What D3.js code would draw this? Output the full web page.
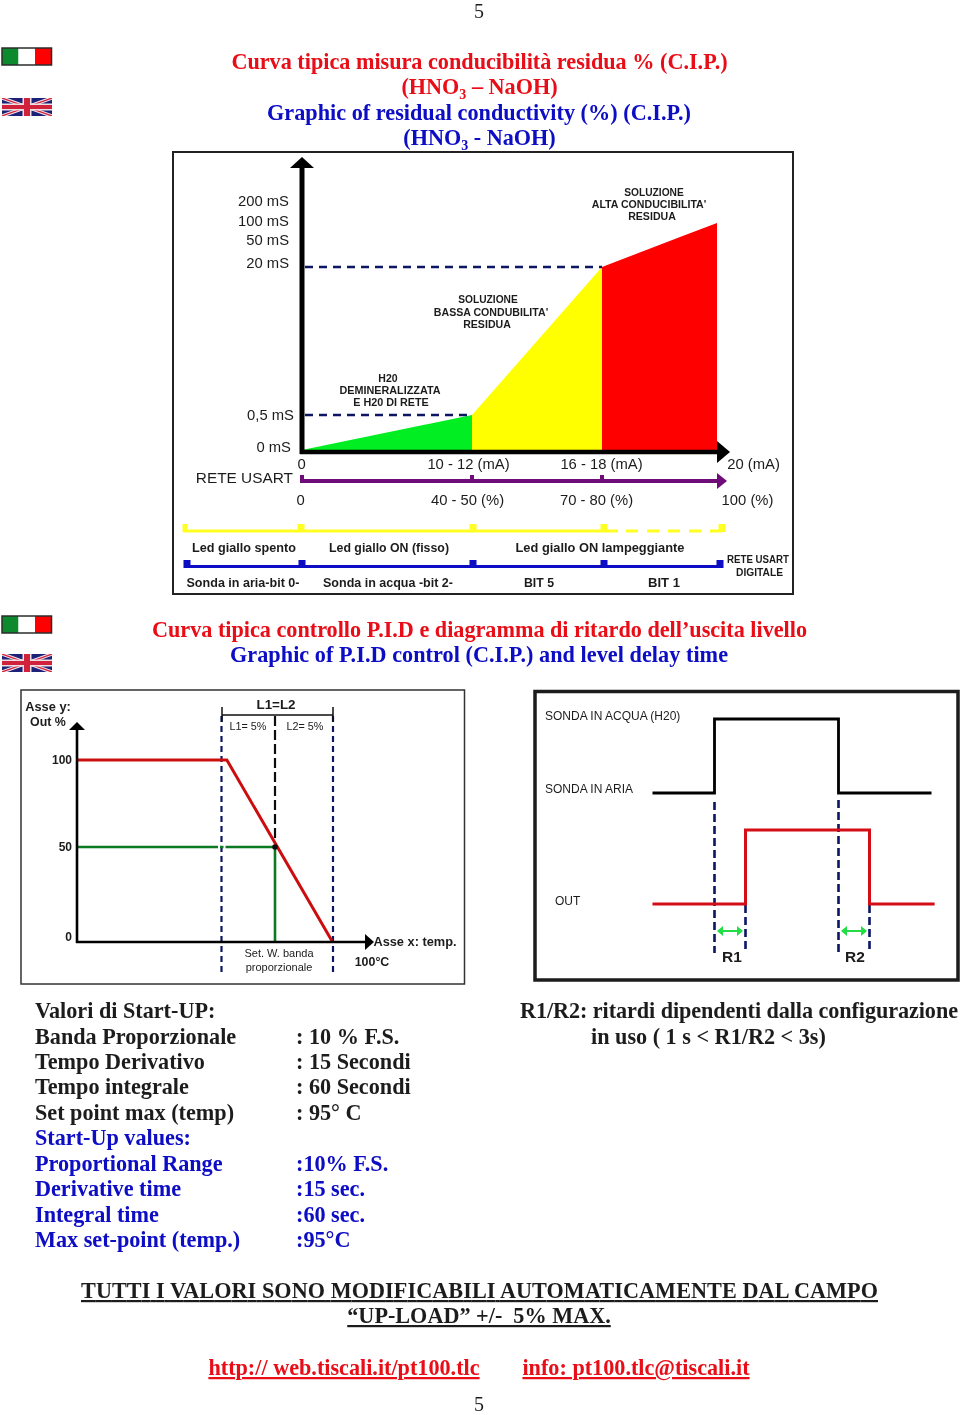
<!DOCTYPE html>
<html>
<head>
<meta charset="utf-8">
<script src="https://cdn.jsdelivr.net/npm/d3@7"></script>
<style>
body { margin: 0; background: #fff; }
svg { display: block; }
.page { font-family: "Liberation Serif", serif; font-weight: bold; }
.art { font-family: "Liberation Sans", sans-serif; fill: #1c1c1c; }
.axis path, .axis line { display: none; }
</style>
</head>
<body>
<div id="viz_container"></div>
<script>
// chart 1: conductivity against current
const conductivityTicks = [0, 0.5, 20, 50, 100, 200];
const conductivityLabels = ["0 mS", "0,5 mS", "20 mS", "50 mS", "100 mS", "200 mS"];
const currentTicks = [0, 11, 17, 20];
const currentLabels = ["0", "10 - 12 (mA)", "16 - 18 (mA)", "20 (mA)"];
const percentLabels = ["0", "40 - 50 (%)", "70 - 80 (%)", "100 (%)"];
const greenCurrent = [0, 11];
const greenConductivity = [0, 0.5];
const yellowCurrent = [11, 17];
const yellowConductivity = [0.5, 20];
const redCurrent = [17, 20];
const redConductivity = [20, 95];
const ledLabels = ["Led giallo spento", "Led giallo ON (fisso)", "Led giallo ON lampeggiante"];
const bitLabels = ["Sonda in aria-bit 0-", "Sonda in acqua -bit 2-", "BIT 5", "BIT 1"];

// chart 2: P.I.D. output against temperature
const outTicks = [0, 50, 100];
const redTemp = [0, 90.5, 100];
const redOut = [100, 100, 0];
const greenTemp = [0, 95, 95];
const greenOut = [50, 50, 0];
const bandTemps = [90, 95, 100];

// chart 3: delay of the level output, seconds
const probeTime = [0, 2, 2, 6, 6, 9];
const probeLevel = [0, 0, 1, 1, 0, 0];
const outputTime = [0, 3, 3, 7, 7, 9.1];
const outputLevel = [0, 0, 1, 1, 0, 0];

const startUpIt = ["Banda Proporzionale", "Tempo Derivativo", "Tempo integrale", "Set point max (temp)"];
const startUpItValues = [": 10 % F.S.", ": 15 Secondi", ": 60 Secondi", ": 95° C"];
const startUpEn = ["Proportional Range", "Derivative time", "Integral time", "Max set-point (temp.)"];
const startUpEnValues = [":10% F.S.", ":15 sec.", ":60 sec.", ":95°C"];

const RED = "#e80a14", BLUE = "#0808c4", INK = "#1c1c1c", NAVY = "#0a1464";

var svg = d3.select("#viz_container").append("svg")
    .attr("width", 960)
    .attr("height", 1415)
    .attr("viewBox", "0 0 960 1415");

var defs = svg.append("defs");
defs.append("filter").attr("id", "text").append("feGaussianBlur").attr("stdDeviation", 0.25);
defs.append("filter").attr("id", "soft").append("feGaussianBlur").attr("stdDeviation", 0.4);
defs.append("filter").attr("id", "softer").append("feGaussianBlur").attr("stdDeviation", 0.7);
defs.append("clipPath").attr("id", "ukclip").append("rect").attr("width", 50).attr("height", 18);

var pageText = svg.append("g").attr("filter", "url(#text)");

// body text of the page
function line(txt, x, y, color, anchor, size) {
    return pageText.append("text").attr("class", "page")
        .attr("x", x).attr("y", y)
        .attr("fill", color)
        .attr("text-anchor", anchor || "middle")
        .style("font-size", (size || 22.2) + "px")
        .text(txt);
}

// same, with the subscript 3 of HNO3
function hno(y, tail) {
    var t = line("(HNO", 479.5, y, y < 100 ? RED : BLUE);
    t.append("tspan").attr("dy", 5).style("font-size", "14px").text("3");
    t.append("tspan").attr("dy", -5).text(tail);
}

function art(g, txt, x, y, size, bold, anchor) {
    return g.append("text").attr("class", "art")
        .attr("x", x).attr("y", y)
        .attr("text-anchor", anchor || "middle")
        .style("font-size", size + "px")
        .style("font-weight", bold ? "bold" : "normal")
        .text(txt);
}

// the tall condensed captions of the two bars
function caption(g, txt, x, y, width, size) {
    return art(g, txt, x, y, size || 13, true)
        .attr("textLength", width)
        .attr("lengthAdjust", "spacingAndGlyphs");
}

function flagIt(y) {
    var g = svg.append("g").attr("transform", "translate(2," + y + ")").attr("filter", "url(#soft)");
    g.selectAll("rect").data(["#0a8a2e", "#ffffff", "#ff0000"]).enter().append("rect")
        .attr("x", (d, i) => i * 16.5)
        .attr("width", 16.5)
        .attr("height", 17)
        .attr("fill", d => d);
    g.append("rect").attr("width", 49.5).attr("height", 17)
        .attr("fill", "none").attr("stroke", "#2b2b2b").attr("stroke-width", 1.5);
}

function flagUk(y) {
    var g = svg.append("g").attr("transform", "translate(2," + y + ")").attr("filter", "url(#softer)")
        .append("g").attr("clip-path", "url(#ukclip)");
    g.append("rect").attr("width", 50).attr("height", 18).attr("fill", "#1c2278");
    [[0, 0, 50, 18], [0, 18, 50, 0]].forEach(function(c) {
        g.append("line").attr("x1", c[0]).attr("y1", c[1]).attr("x2", c[2]).attr("y2", c[3])
            .attr("stroke", "#f0e4e8").attr("stroke-width", 3.5);
        g.append("line").attr("x1", c[0]).attr("y1", c[1]).attr("x2", c[2]).attr("y2", c[3])
            .attr("stroke", "#d8203a").attr("stroke-width", 1.2);
    });
    g.append("rect").attr("x", 20.5).attr("width", 9).attr("height", 18).attr("fill", "#f0dfe2");
    g.append("rect").attr("y", 5.5).attr("width", 50).attr("height", 7).attr("fill", "#f0dfe2");
    g.append("rect").attr("x", 22).attr("width", 6).attr("height", 18).attr("fill", "#d0203a");
    g.append("rect").attr("y", 7).attr("width", 50).attr("height", 4).attr("fill", "#d0203a");
}

function arrowHead(g, pts, color) {
    g.append("path").attr("d", d3.line()(pts) + "Z").attr("fill", color);
}

// ---- headers ----
line("5", 479, 18, INK, "middle", 20).style("font-weight", "normal");
flagIt(48); flagUk(98);
line("Curva tipica misura conducibilità residua % (C.I.P.)", 479.5, 69, RED);
hno(94, " – NaOH)");
line("Graphic of residual conductivity (%) (C.I.P.)", 479, 120, BLUE).attr("textLength", 424);
hno(145, " - NaOH)");

// ---- chart 1 ----
var c1 = svg.append("g").attr("filter", "url(#soft)");
c1.append("rect").attr("x", 173).attr("y", 152).attr("width", 620).attr("height", 442)
    .attr("fill", "#fff").attr("stroke", "#222").attr("stroke-width", 2);

var x1 = d3.scaleLinear().domain([0, 11, 17, 20]).range([302, 472, 602, 717]);
var y1 = d3.scaleLinear().domain(conductivityTicks).range([450, 415, 267, 240, 221, 201]);

var band = d3.area().x(d => x1(d.c)).y0(450).y1(d => y1(d.v));
[[greenCurrent, greenConductivity, "#00ee22"],
 [yellowCurrent, yellowConductivity, "#ffff00"],
 [redCurrent, redConductivity, "#ff0000"]].forEach(function(s) {
    c1.append("path")
        .attr("d", band(s[0].map((c, i) => ({c: c, v: s[1][i]}))))
        .attr("fill", s[2]);
});

[[20, 17], [0.5, 11]].forEach(function(p) {
    c1.append("line").attr("x1", 305).attr("x2", x1(p[1]))
        .attr("y1", y1(p[0])).attr("y2", y1(p[0]))
        .attr("stroke", NAVY).attr("stroke-width", 2.4).attr("stroke-dasharray", "8 6");
});

// axes
c1.append("line").attr("x1", 302).attr("x2", 302).attr("y1", 454).attr("y2", 166)
    .attr("stroke", "#000").attr("stroke-width", 5);
arrowHead(c1, [[290, 168], [302, 157], [314, 168]], "#000");
c1.append("line").attr("x1", 300).attr("x2", 719).attr("y1", 452).attr("y2", 452)
    .attr("stroke", "#000").attr("stroke-width", 4.5);
arrowHead(c1, [[717, 441], [730, 452], [717, 463]], "#000");

var yAxis1 = d3.axisLeft(y1).tickValues(conductivityTicks).tickSize(0)
    .tickFormat((d, i) => conductivityLabels[i]);
var yG1 = c1.append("g").attr("class", "axis").attr("transform", "translate(296,0)").call(yAxis1);
yG1.selectAll("text").attr("class", "art").style("font-size", "14.8px")
    .attr("dx", d => d == 0.5 ? 1 : (d == 0 ? -2 : -4))
    .attr("dy", d => d == 0 ? "0.1em" : (d == 20 ? "0" : (d == 0.5 ? "0.3em" : "0.32em")));

// mA labels
var mA = c1.append("g").attr("class", "axis").attr("transform", "translate(0,469)")
    .call(d3.axisBottom(x1).tickValues(currentTicks).tickSize(0).tickPadding(0)
        .tickFormat((d, i) => currentLabels[i]));
mA.selectAll("text").attr("class", "art").style("font-size", "14.8px")
    .attr("y", 0).attr("dy", 0)
    .attr("dx", d => ({0: -1, 11: -4, 17: -1, 20: 36})[d]);

// purple scale
c1.append("line").attr("x1", 300).attr("x2", 718).attr("y1", 481).attr("y2", 481)
    .attr("stroke", "#6e0a78").attr("stroke-width", 4);
arrowHead(c1, [[717, 473], [727, 481], [717, 489]], "#6e0a78");
[0, 11, 17].forEach(function(c) {
    c1.append("rect").attr("x", x1(c) - 2).attr("y", 475).attr("width", 4).attr("height", 6).attr("fill", "#6e0a78");
});
art(c1, "RETE USART", 293, 483, 15.4, false, "end");

var pct = c1.append("g").attr("class", "axis").attr("transform", "translate(0,505)")
    .call(d3.axisBottom(x1).tickValues(currentTicks).tickSize(0).tickPadding(0)
        .tickFormat((d, i) => percentLabels[i]));
pct.selectAll("text").attr("class", "art").style("font-size", "14.8px")
    .attr("y", 0).attr("dy", 0)
    .attr("dx", d => ({0: -2, 11: -5, 17: -6, 20: 30})[d]);

// annotations in the plot
[["H20", 388, 382, 10.5], ["DEMINERALIZZATA", 390, 394, 10.8], ["E H20 DI RETE", 391, 406, 10.8],
 ["SOLUZIONE", 488, 303, 10.2], ["BASSA CONDUBILITA'", 491, 316, 10.6], ["RESIDUA", 487, 328, 10.6],
 ["SOLUZIONE", 654, 196, 10.2], ["ALTA CONDUCIBILITA'", 649, 208, 10.6], ["RESIDUA", 652, 220, 10.6]
].forEach(d => art(c1, d[0], d[1], d[2], d[3], true));

// led bar
c1.append("line").attr("x1", 183).attr("x2", 618).attr("y1", 531).attr("y2", 531)
    .attr("stroke", "#ffff22").attr("stroke-width", 3.2);
c1.append("line").attr("x1", 626).attr("x2", 722).attr("y1", 531).attr("y2", 531)
    .attr("stroke", "#ffff22").attr("stroke-width", 3.2).attr("stroke-dasharray", "12 9");
[[185, 5], [301, 7], [473, 7], [604, 7], [722, 7]].forEach(function(d) {
    c1.append("rect").attr("x", d[0] - d[1] / 2).attr("y", 524).attr("width", d[1]).attr("height", 8).attr("fill", "#ffff22");
});
[[244, 104], [389, 120], [600, 169]].forEach((d, i) => caption(c1, ledLabels[i], d[0], 552, d[1]));

// bit bar
c1.append("line").attr("x1", 184).attr("x2", 722).attr("y1", 566.5).attr("y2", 566.5)
    .attr("stroke", BLUE).attr("stroke-width", 3);
[187, 302, 473, 604, 720].forEach(function(px) {
    c1.append("rect").attr("x", px - 3.5).attr("y", 560).attr("width", 7).attr("height", 8).attr("fill", BLUE);
});
[[243, 113], [388, 130], [539, 30], [664, 32]].forEach((d, i) => caption(c1, bitLabels[i], d[0], 586.5, d[1]));
caption(c1, "RETE USART", 758, 563, 62, 10.5);
caption(c1, "DIGITALE", 759.5, 576, 47, 10.5);

// ---- second header ----
flagIt(616); flagUk(654);
line("Curva tipica controllo P.I.D e diagramma di ritardo dell’uscita livello", 479.5, 637, RED).attr("textLength", 655);
line("Graphic of P.I.D control (C.I.P.) and level delay time", 479, 662, BLUE).attr("textLength", 498);

// ---- chart 2 ----
var c2 = svg.append("g").attr("filter", "url(#soft)");
c2.append("rect").attr("x", 21).attr("y", 690).attr("width", 443.5).attr("height", 294)
    .attr("fill", "#fff").attr("stroke", "#333").attr("stroke-width", 1.5);

var x2 = d3.scaleLinear().domain([0, 90, 95, 100]).range([77, 221.5, 275, 332]);
var y2 = d3.scaleLinear().domain([0, 50, 100]).range([941, 847, 760]);

// band limits
bandTemps.forEach(function(t) {
    c2.append("line").attr("x1", x2(t) + (t == 100 ? 1 : 0)).attr("x2", x2(t) + (t == 100 ? 1 : 0))
        .attr("y1", 716).attr("y2", t == 95 ? 838 : 975)
        .attr("stroke", t == 95 ? "#111" : NAVY)
        .attr("stroke-width", 2.2)
        .attr("stroke-dasharray", t == 95 ? "10 4" : "6 4");
});
c2.append("path").attr("d", "M222,707V715H333V707M222,715V722M333,715V722")
    .attr("fill", "none").attr("stroke", "#111").attr("stroke-width", 1.5);

var lineOut = d3.line().x(d => x2(d[0])).y(d => y2(d[1]));
// green line, broken where it meets the left band limit
c2.append("path").attr("d", lineOut(d3.zip(greenTemp, greenOut)))
    .attr("fill", "none").attr("stroke", "#0d7a22").attr("stroke-width", 2.6);
c2.append("rect").attr("x", 218).attr("y", 844).attr("width", 2).attr("height", 6).attr("fill", "#fff");
c2.append("rect").attr("x", 223.5).attr("y", 844).attr("width", 2).attr("height", 6).attr("fill", "#fff");
c2.append("path").attr("d", lineOut(d3.zip(redTemp, redOut)))
    .attr("fill", "none").attr("stroke", "#cc1111").attr("stroke-width", 3);
c2.append("circle").attr("cx", x2(95)).attr("cy", y2(50)).attr("r", 2.8).attr("fill", "#111");

c2.append("line").attr("x1", 77).attr("x2", 77).attr("y1", 943).attr("y2", 728)
    .attr("stroke", "#000").attr("stroke-width", 2.6);
arrowHead(c2, [[69, 730], [77, 722], [85, 730]], "#000");
c2.append("line").attr("x1", 76).attr("x2", 366).attr("y1", 942).attr("y2", 942)
    .attr("stroke", "#000").attr("stroke-width", 2.6);
arrowHead(c2, [[365, 934], [374, 942], [365, 950]], "#000");

var yG2 = c2.append("g").attr("class", "axis").attr("transform", "translate(70,0)")
    .call(d3.axisLeft(y2).tickValues(outTicks).tickSize(0).tickPadding(0));
yG2.selectAll("text").attr("class", "art").style("font-size", "12px").style("font-weight", "bold")
    .attr("x", 2).attr("dy", d => d == 0 ? "-0.05em" : "0.32em");

[["Asse y:", 48, 711, 12.8, true], ["Out %", 48, 726, 12.4, true], ["L1=L2", 276, 709, 13.4, true],
 ["L1= 5%", 248, 730, 10.8, false], ["L2= 5%", 305, 730, 10.8, false],
 ["Asse x: temp.", 415, 946, 12.8, true], ["100°C", 372, 966, 12.4, true],
 ["Set. W. banda", 279, 957, 11, false], ["proporzionale", 279, 971, 11, false]
].forEach(d => art(c2, d[0], d[1], d[2], d[3], d[4]));

// ---- chart 3 ----
var c3 = svg.append("g").attr("filter", "url(#soft)");
c3.append("rect").attr("x", 535).attr("y", 691.5).attr("width", 423).attr("height", 288.5)
    .attr("fill", "#fff").attr("stroke", "#1a1a1a").attr("stroke-width", 3.5);

var x3 = d3.scaleLinear().domain([0, 9]).range([652.5, 931.5]);
var yProbe = d3.scaleLinear().domain([0, 1]).range([793, 719]);
var yOutput = d3.scaleLinear().domain([0, 1]).range([904, 830]);

// delay markers
[[2, 802], [3, 905], [6, 800], [7, 905]].forEach(function(d) {
    c3.append("line").attr("x1", x3(d[0])).attr("x2", x3(d[0])).attr("y1", d[1]).attr("y2", 953)
        .attr("stroke", NAVY).attr("stroke-width", 2.6).attr("stroke-dasharray", "8 4");
});
c3.append("path").attr("d", d3.line().x(d => x3(d[0])).y(d => yProbe(d[1]))(d3.zip(probeTime, probeLevel)))
    .attr("fill", "none").attr("stroke", "#000").attr("stroke-width", 2.8);
c3.append("path").attr("d", d3.line().x(d => x3(d[0])).y(d => yOutput(d[1]))(d3.zip(outputTime, outputLevel)))
    .attr("fill", "none").attr("stroke", "#d40f14").attr("stroke-width", 3);

[[2, 3], [6, 7]].forEach(function(d) {
    var a = x3(d[0]) + 2.5, b = x3(d[1]) - 2.5;
    c3.append("line").attr("x1", a + 3).attr("x2", b - 3).attr("y1", 931).attr("y2", 931)
        .attr("stroke", "#22dd44").attr("stroke-width", 2);
    arrowHead(c3, [[a + 6, 926], [a, 931], [a + 6, 936]], "#22dd44");
    arrowHead(c3, [[b - 6, 926], [b, 931], [b - 6, 936]], "#22dd44");
});

[["SONDA IN ACQUA (H20)", 545, 720, 12, false, "start"], ["SONDA IN ARIA", 545, 793, 12, false, "start"],
 ["OUT", 555, 905, 12, false, "start"], ["R1", 732, 962, 15.5, true, "middle"], ["R2", 855, 962, 15.5, true, "middle"]
].forEach(d => art(c3, d[0], d[1], d[2], d[3], d[4], d[5]));

// ---- start-up values ----
line("Valori di Start-UP:", 35, 1018, INK, "start");
startUpIt.forEach(function(d, i) {
    var y = [1044, 1069, 1094, 1120][i];
    line(d, 35, y, INK, "start");
    line(startUpItValues[i], 296, y, INK, "start");
});
line("Start-Up values:", 35, 1145, BLUE, "start");
startUpEn.forEach(function(d, i) {
    var y = [1171, 1196, 1222, 1247][i];
    line(d, 35, y, BLUE, "start");
    line(startUpEnValues[i], 296, y, BLUE, "start");
});
line("R1/R2: ritardi dipendenti dalla configurazione", 520, 1018, INK, "start").attr("textLength", 438);
line("in uso ( 1 s < R1/R2 < 3s)", 591, 1044, INK, "start");

line("TUTTI I VALORI SONO MODIFICABILI AUTOMATICAMENTE DAL CAMPO", 479.5, 1298, INK).attr("textLength", 797).style("text-decoration", "underline");
line("“UP-LOAD” +/-  5% MAX.", 479, 1323, INK).style("text-decoration", "underline").style("white-space", "pre");
line("http:// web.tiscali.it/pt100.tlc", 344, 1375, RED).style("text-decoration", "underline");
line("info: pt100.tlc@tiscali.it", 636, 1375, RED).style("text-decoration", "underline");
line("5", 479, 1410.5, INK, "middle", 20).style("font-weight", "normal");
</script>
</body>
</html>
